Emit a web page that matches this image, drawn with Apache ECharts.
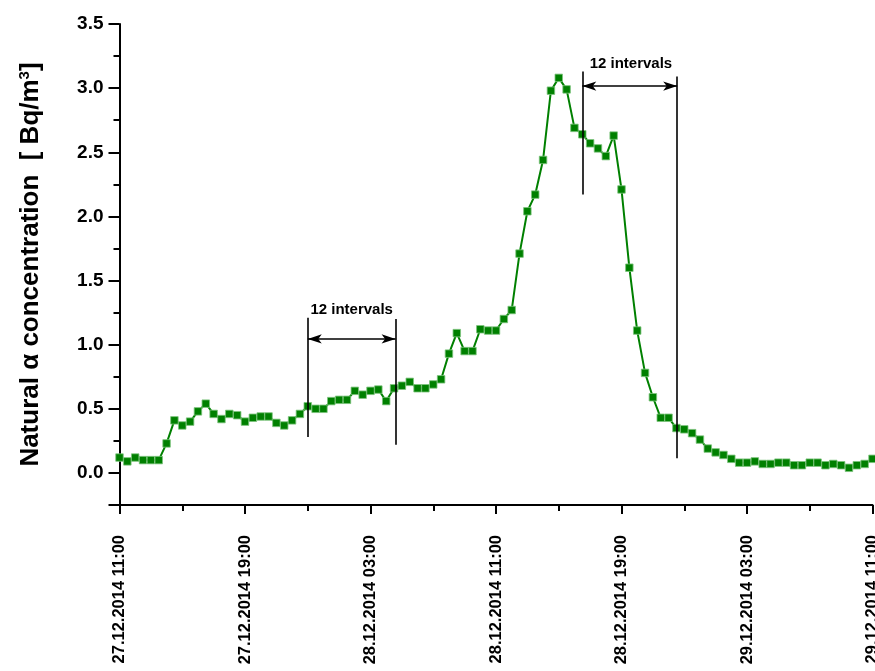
<!DOCTYPE html>
<html>
<head>
<meta charset="utf-8">
<script src="https://cdn.jsdelivr.net/npm/echarts@6/dist/echarts.min.js"></script>
<style>
  html, body { margin: 0; padding: 0; background: #fff; }
  #chart { width: 875px; height: 671px; }
</style>
</head>
<body>
<div id="chart"></div>
<script>
// x axis: hours since 27.12.2014 11:00, one reading every 30 min
var tickLabels = ['27.12.2014 11:00', '27.12.2014 19:00', '28.12.2014 03:00',
  '28.12.2014 11:00', '28.12.2014 19:00', '29.12.2014 03:00', '29.12.2014 11:00'];
var stepHours = 0.5;
var concentration = [
  0.12, 0.09, 0.12, 0.10, 0.10, 0.10, 0.23, 0.41, 0.37, 0.40,
  0.48, 0.54, 0.46, 0.42, 0.46, 0.45, 0.40, 0.43, 0.44, 0.44,
  0.39, 0.37, 0.41, 0.46, 0.52, 0.50, 0.50, 0.56, 0.57, 0.57,
  0.64, 0.61, 0.64, 0.65, 0.56, 0.66, 0.68, 0.71, 0.66, 0.66,
  0.69, 0.73, 0.93, 1.09, 0.95, 0.95, 1.12, 1.11, 1.11, 1.20,
  1.27, 1.71, 2.04, 2.17, 2.44, 2.98, 3.08, 2.99, 2.69, 2.64,
  2.57, 2.53, 2.47, 2.63, 2.21, 1.60, 1.11, 0.78, 0.59, 0.43,
  0.43, 0.35, 0.34, 0.31, 0.26, 0.19, 0.16, 0.14, 0.11, 0.08,
  0.08, 0.09, 0.07, 0.07, 0.08, 0.08, 0.06, 0.06, 0.08, 0.08,
  0.06, 0.07, 0.06, 0.04, 0.06, 0.07, 0.11
];
// annotation marks in data units: [hours, low, high]
var spanLines = [[12.0, 0.28, 1.21], [17.6, 0.22, 1.20], [29.5, 2.17, 3.13], [35.55, 0.115, 3.09]];
// [from hours, to hours, value]
var spanArrows = [[12.0, 17.6, 1.045], [29.5, 35.55, 3.016]];
// [hours, value, text]
var spanLabels = [[14.8, 1.27, '12 intervals'], [32.6, 3.19, '12 intervals']];

var points = concentration.map(function (v, i) { return [i * stepHours, v]; });
var FONT = '"Liberation Sans", Arial, sans-serif';

var myChart = echarts.init(document.getElementById('chart'));
var option = {
  animation: false,
  grid: { left: 119.5, right: 2.5, top: 24, bottom: 166, containLabel: false, outerBoundsMode: 'none' },
  xAxis: {
    type: 'value',
    min: 0,
    max: 48,
    interval: 8,
    axisLine: { onZero: false, lineStyle: { color: '#000', width: 2 } },
    axisTick: { length: 9, lineStyle: { color: '#000', width: 2 } },
    minorTick: { show: true, splitNumber: 2, length: 6, lineStyle: { color: '#000', width: 2 } },
    splitLine: { show: false },
    minorSplitLine: { show: false },
    axisLabel: {
      rotate: 90,
      margin: 30,
      color: '#000',
      fontFamily: FONT,
      fontWeight: 'bold',
      fontSize: 16.5,
      showMaxLabel: true,
      hideOverlap: false,
      formatter: function (v) { return tickLabels[Math.round(v / 8)] || ''; }
    }
  },
  yAxis: [
    {
      type: 'value',
      min: -0.25,
      max: 3.5,
      splitNumber: 8,
      name: 'Natural α concentration  [ Bq/m{sup|3}]',
      nameLocation: 'middle',
      nameGap: 76,
      nameTextStyle: {
        color: '#000',
        fontFamily: FONT,
        fontWeight: 'bold',
        fontSize: 26,
        rich: {
          sup: { fontFamily: FONT, fontWeight: 'bold', fontSize: 15, verticalAlign: 'top', color: '#000' }
        }
      },
      axisLine: { show: true, onZero: false, lineStyle: { color: '#000', width: 2 } },
      axisTick: { show: true, length: 11, lineStyle: { color: '#000', width: 2 } },
      splitLine: { show: false },
      axisLabel: {
        margin: 16,
        color: '#000',
        fontFamily: FONT,
        fontWeight: 'bold',
        fontSize: 19,
        formatter: function (v) {
          if (Math.abs(Math.round(v * 2) - v * 2) > 1e-6) return '';
          return v.toFixed(1);
        }
      }
    },
    {
      // minor ticks every 0.25
      type: 'value',
      position: 'left',
      min: -0.25,
      max: 3.5,
      interval: 0.25,
      axisLine: { show: false, onZero: false },
      axisTick: { show: true, length: 6, lineStyle: { color: '#000', width: 2 } },
      axisLabel: { show: false },
      splitLine: { show: false }
    }
  ],
  series: [
    {
      name: 'concentration',
      type: 'line',
      data: points,
      symbol: 'rect',
      symbolSize: 7.5,
      lineStyle: { color: '#008000', width: 2 },
      itemStyle: { color: '#008000', borderColor: '#7cc47c', borderWidth: 0.8 },
      emphasis: { disabled: true },
      z: 3
    },
    {
      name: 'spans',
      type: 'line',
      data: [],
      silent: true,
      markLine: {
        silent: true,
        symbol: 'none',
        label: { show: false },
        lineStyle: { color: '#000', width: 1.6, type: 'solid' },
        emphasis: { disabled: true },
        data: spanLines.map(function (s) {
          return [{ coord: [s[0], s[1]] }, { coord: [s[0], s[2]] }];
        })
      }
    },
    {
      name: 'arrows',
      type: 'line',
      data: [],
      silent: true,
      markLine: {
        silent: true,
        symbol: ['arrow', 'arrow'],
        symbolSize: [7, 14],
        label: { show: false },
        lineStyle: { color: '#000', width: 1.6, type: 'solid' },
        emphasis: { disabled: true },
        data: spanArrows.map(function (a) {
          return [{ coord: [a[0], a[2]] }, { coord: [a[1], a[2]] }];
        })
      },
      markPoint: {
        silent: true,
        symbol: 'circle',
        symbolSize: 0,
        itemStyle: { color: 'transparent' },
        label: {
          show: true,
          position: 'inside',
          color: '#000',
          fontFamily: FONT,
          fontWeight: 'bold',
          fontSize: 15,
          formatter: function (p) { return p.name; }
        },
        data: spanLabels.map(function (t) {
          return { name: t[2], coord: [t[0], t[1]] };
        })
      }
    }
  ]
};
myChart.setOption(option);
</script>
</body>
</html>
